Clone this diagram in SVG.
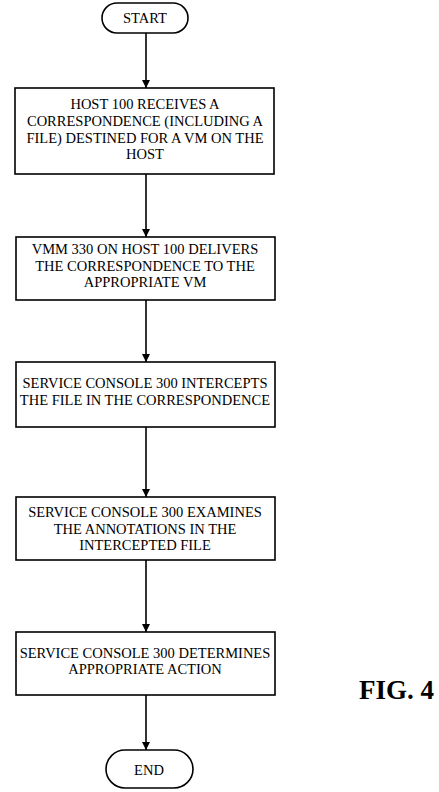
<svg xmlns="http://www.w3.org/2000/svg" width="439" height="792" viewBox="0 0 439 792">
<defs>
<marker id="ah" viewBox="0 0 8 10" refX="8" refY="5" markerWidth="8" markerHeight="10" markerUnits="userSpaceOnUse" orient="auto">
<path d="M0,1 L8,5 L0,9 Z" fill="#000"/>
</marker>
</defs>
<style>
.box{fill:#fff;stroke:#000;stroke-width:1.6}
.t{font-family:"Liberation Serif","Times New Roman",serif;font-size:14.5px;fill:#000;text-anchor:middle}
.c{stroke:#000;stroke-width:1.6;fill:none;marker-end:url(#ah)}
.fig{font-family:"Liberation Serif","Times New Roman",serif;font-size:27px;font-weight:bold;fill:#000}
</style>
<rect width="439" height="792" fill="#fff"/>
<g id="connectors">
<line class="c" x1="146" y1="33" x2="146" y2="88"/>
<line class="c" x1="146" y1="174" x2="146" y2="237"/>
<line class="c" x1="146" y1="300" x2="146" y2="362"/>
<line class="c" x1="146" y1="427" x2="146" y2="497"/>
<line class="c" x1="146" y1="560" x2="146" y2="632"/>
<line class="c" x1="146" y1="695" x2="146" y2="750"/>
</g>
<g id="start">
<rect class="box" x="102" y="3" width="86" height="30" rx="15"/>
<text class="t" x="145" y="23">START</text>
</g>
<g id="step1">
<rect class="box" x="15" y="88" width="259" height="86"/>
<text class="t" x="145" y="109">HOST 100 RECEIVES A</text>
<text class="t" x="145" y="126">CORRESPONDENCE (INCLUDING A</text>
<text class="t" x="145" y="143">FILE) DESTINED FOR A VM ON THE</text>
<text class="t" x="145" y="159">HOST</text>
</g>
<g id="step2">
<rect class="box" x="16" y="237" width="259" height="63"/>
<text class="t" x="145" y="254">VMM 330 ON HOST 100 DELIVERS</text>
<text class="t" x="145" y="271">THE CORRESPONDENCE TO THE</text>
<text class="t" x="145" y="287">APPROPRIATE VM</text>
</g>
<g id="step3">
<rect class="box" x="16" y="362" width="259" height="65"/>
<text class="t" x="145" y="388">SERVICE CONSOLE 300 INTERCEPTS</text>
<text class="t" x="145" y="405">THE FILE IN THE CORRESPONDENCE</text>
</g>
<g id="step4">
<rect class="box" x="16" y="497" width="259" height="63"/>
<text class="t" x="145" y="517">SERVICE CONSOLE 300 EXAMINES</text>
<text class="t" x="145" y="534">THE ANNOTATIONS IN THE</text>
<text class="t" x="145" y="550">INTERCEPTED FILE</text>
</g>
<g id="step5">
<rect class="box" x="16" y="632" width="259" height="63"/>
<text class="t" x="145" y="658">SERVICE CONSOLE 300 DETERMINES</text>
<text class="t" x="145" y="674">APPROPRIATE ACTION</text>
</g>
<g id="end">
<rect class="box" x="106" y="750" width="87" height="38" rx="19"/>
<text class="t" x="149" y="775">END</text>
</g>
<text class="fig" x="359" y="699">FIG. 4</text>
</svg>
